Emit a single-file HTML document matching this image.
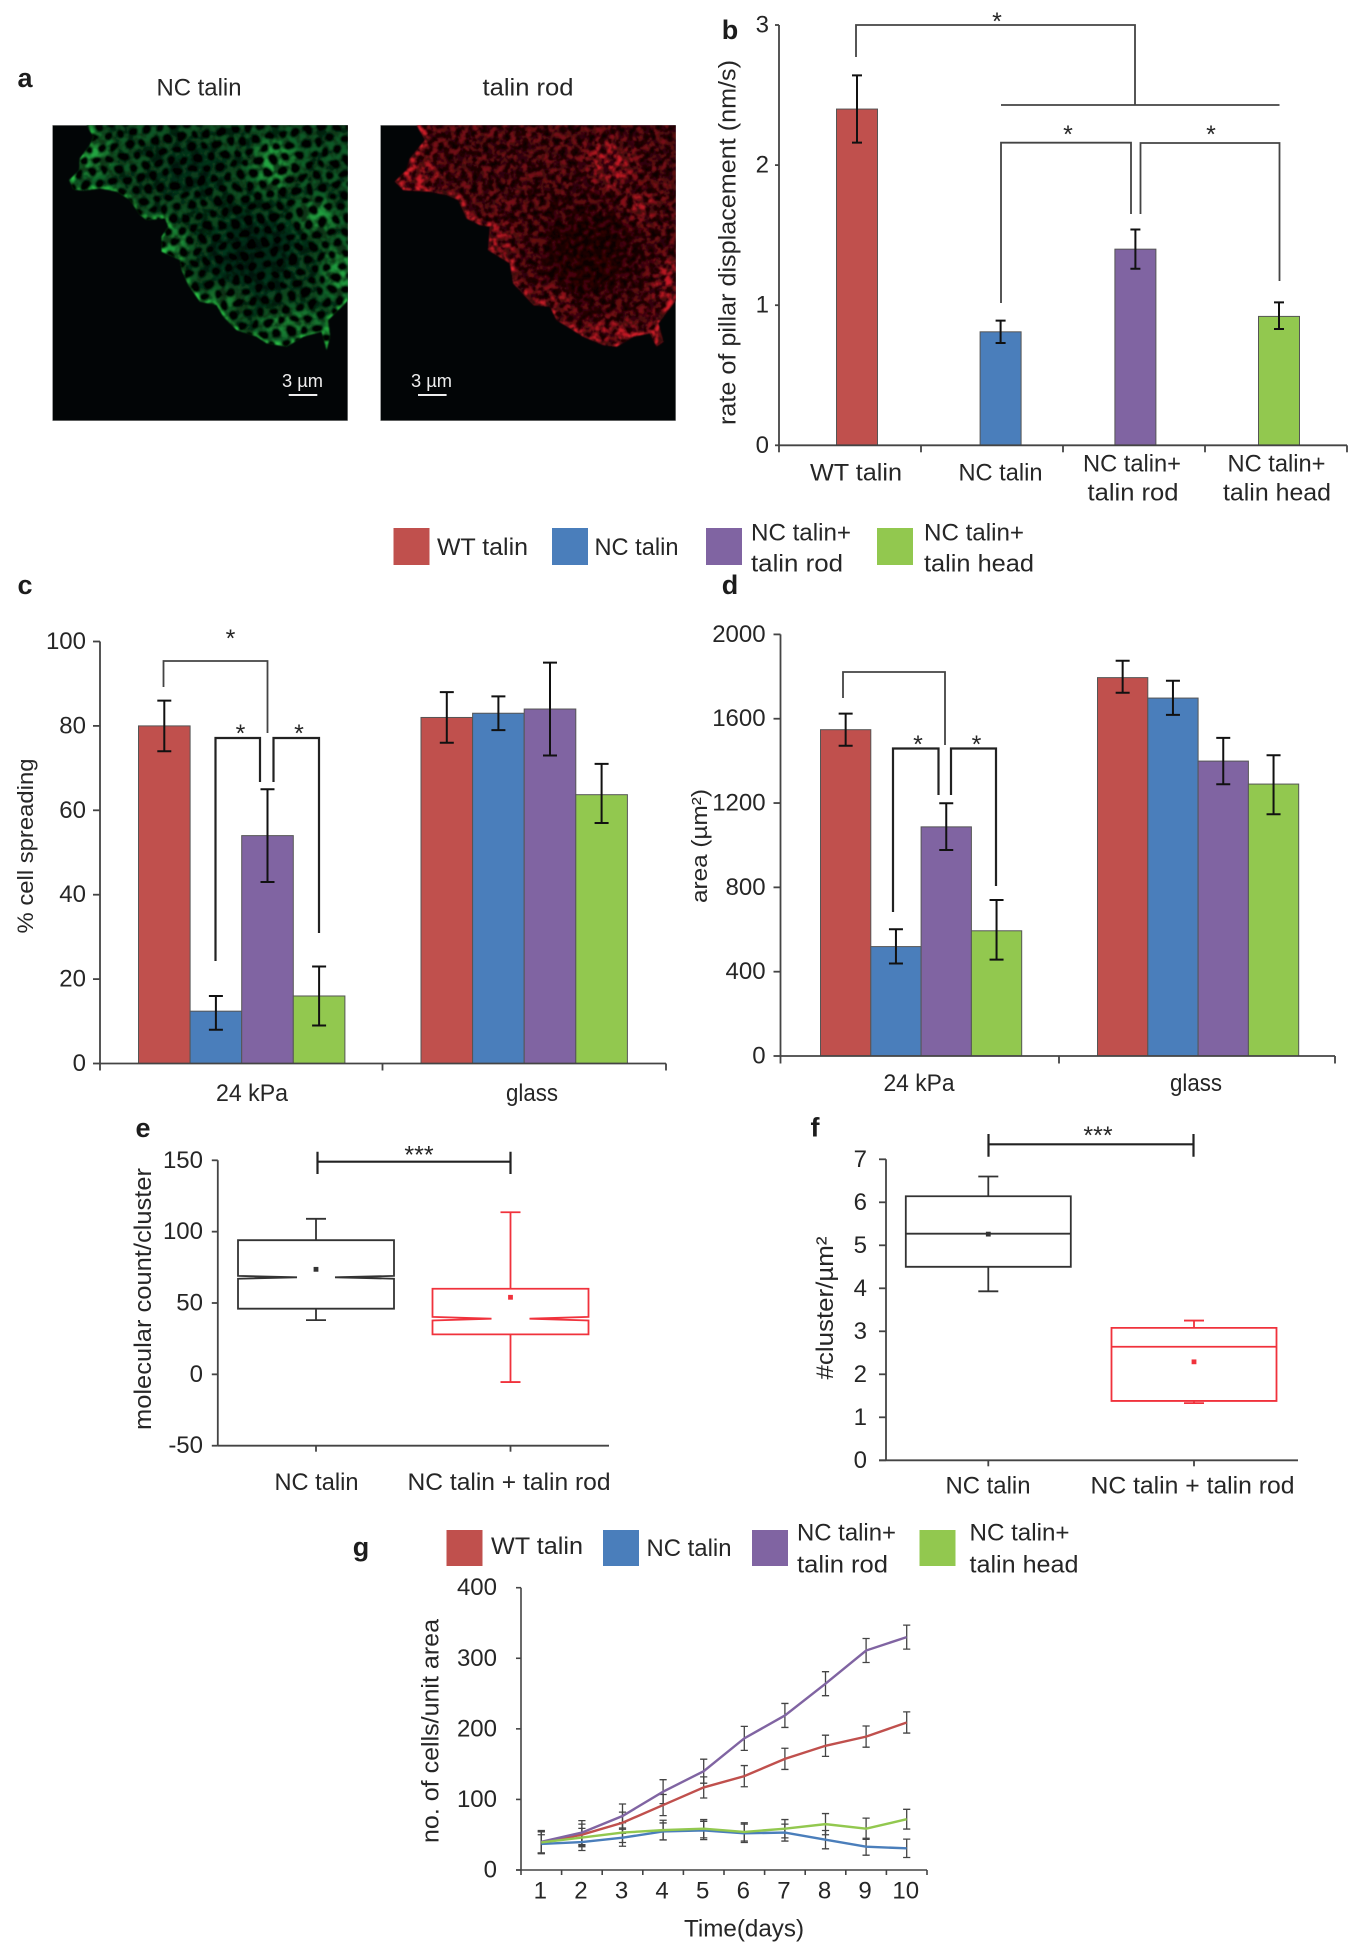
<!DOCTYPE html>
<html lang="en">
<head>
<meta charset="utf-8">
<title>Talin figure panels</title>
<style>
html,body{margin:0;padding:0;background:#fff;width:1358px;height:1950px;overflow:hidden}
svg{display:block}
text{font-family:"Liberation Sans",Arial,sans-serif;font-size:24px;fill:#262626}
.ltr{font-weight:700;font-size:27px;fill:#1c1c1c;text-anchor:middle}
.m{text-anchor:middle}
.star{font-size:25px;text-anchor:middle}
.br{fill:none;stroke:#444;stroke-width:1.8}
.brk{fill:none;stroke:#222;stroke-width:2.2}
</style>
</head>
<body>
<svg id="figure" xmlns="http://www.w3.org/2000/svg" width="1358" height="1950" viewBox="0 0 1358 1950">
<defs>
<pattern id="holes" patternUnits="userSpaceOnUse" width="13.4" height="23" patternTransform="rotate(-8)">
<circle cx="0" cy="0" r="4.4" fill="#010302"/><circle cx="13.4" cy="0" r="4.4" fill="#010302"/>
<circle cx="6.7" cy="11.5" r="4.4" fill="#010302"/><circle cx="0" cy="23" r="4.4" fill="#010302"/><circle cx="13.4" cy="23" r="4.4" fill="#010302"/>
</pattern>
<filter id="warpG" x="-3%" y="-3%" width="106%" height="106%">
<feTurbulence type="fractalNoise" baseFrequency="0.05" numOctaves="2" seed="3" result="n"/>
<feDisplacementMap in="SourceGraphic" in2="n" scale="9" xChannelSelector="R" yChannelSelector="G"/>
<feGaussianBlur stdDeviation="0.9"/>
</filter>
<filter id="warpR" x="-3%" y="-3%" width="106%" height="106%">
<feTurbulence type="fractalNoise" baseFrequency="0.09" numOctaves="2" seed="7" result="n"/>
<feDisplacementMap in="SourceGraphic" in2="n" scale="13" xChannelSelector="R" yChannelSelector="G"/>
<feGaussianBlur stdDeviation="1.1"/>
</filter>
<filter id="b05" x="-5%" y="-5%" width="110%" height="110%"><feGaussianBlur stdDeviation="0.7"/></filter>
<filter id="b5" x="-20%" y="-20%" width="140%" height="140%"><feGaussianBlur stdDeviation="4"/></filter>
<filter id="b9" x="-100%" y="-100%" width="300%" height="300%"><feGaussianBlur stdDeviation="7"/></filter>
<filter id="b20" x="-100%" y="-100%" width="300%" height="300%"><feGaussianBlur stdDeviation="18"/></filter>
<filter id="mottleG" x="0" y="0" width="100%" height="100%" color-interpolation-filters="sRGB">
<feTurbulence type="fractalNoise" baseFrequency="0.11" numOctaves="3" seed="4"/>
<feColorMatrix values="0 0 0 0 0 0 0 0 0 0 0 0 0 0 0 3 0 0 0 -1.1"/>
</filter>
<filter id="mottleR" x="0" y="0" width="100%" height="100%" color-interpolation-filters="sRGB">
<feTurbulence type="fractalNoise" baseFrequency="0.18" numOctaves="3" seed="9"/>
<feColorMatrix values="0 0 0 0 0 0 0 0 0 0 0 0 0 0 0 3.6 0 0 0 -1.3"/>
</filter>
<clipPath id="clipG"><rect x="52.3" y="125" width="295.7" height="296"/></clipPath>
<clipPath id="clipR"><rect x="380.3" y="125" width="295.7" height="296"/></clipPath>
<clipPath id="cellG"><polygon transform="translate(40,120) scale(.3333)" points="140,15 160,50 150,75 120,115 118,150 88,180 100,208 130,212 180,205 230,215 270,240 300,285 320,300 375,295 385,320 365,350 365,395 420,420 425,450 445,495 480,545 530,555 550,590 590,630 650,650 680,670 740,680 790,650 845,635 860,690 870,650 865,600 925,540 925,15"/></clipPath>
<clipPath id="cellR"><polygon transform="translate(370,120) scale(.3333)" points="140,15 165,60 120,115 110,150 75,185 100,210 180,215 230,225 265,240 290,295 330,315 360,320 355,390 420,430 430,490 490,555 540,560 560,600 640,650 700,675 740,680 790,650 840,640 860,680 880,665 865,610 918,540 918,15"/></clipPath>
</defs>
<rect x="0" y="0" width="1358" height="1950" fill="#fff"/>

<!-- panel a -->
<text class="ltr" x="25" y="87">a</text>
<text class="m" x="199" y="95.5" textLength="85" lengthAdjust="spacingAndGlyphs">NC talin</text>
<text class="m" x="528" y="95.5" textLength="91" lengthAdjust="spacingAndGlyphs">talin rod</text>

<g clip-path="url(#clipG)">
<rect x="52.3" y="125" width="295.7" height="296" fill="#020506" stroke="#bbb" stroke-width="1"/>
<g filter="url(#b05)"><g clip-path="url(#cellG)">
<rect x="52" y="125" width="296" height="296" fill="#0d5a27"/>
<g fill="#2cba48" opacity=".8" filter="url(#b9)">
<ellipse cx="275" cy="165" rx="22" ry="24"/><ellipse cx="317" cy="217" rx="18" ry="16"/><ellipse cx="340" cy="270" rx="14" ry="26"/>
<ellipse cx="290" cy="323" rx="30" ry="10"/><ellipse cx="227" cy="298" rx="20" ry="10"/><ellipse cx="173" cy="243" rx="14" ry="16"/><ellipse cx="90" cy="153" rx="20" ry="22"/>
</g>
<ellipse cx="255" cy="255" rx="50" ry="45" fill="#020f07" opacity=".6" filter="url(#b20)"/>
<ellipse cx="190" cy="170" rx="40" ry="30" fill="#020f07" opacity=".45" filter="url(#b20)"/>
<polyline transform="translate(40,120) scale(.3333)" fill="none" stroke="#2ccb4a" stroke-width="20" filter="url(#b5)" points="140,15 160,50 150,75 120,115 118,150 88,180 100,208 130,212 180,205 230,215 270,240 300,285 320,300 375,295 385,320 365,350 365,395 420,420 425,450 445,495 480,545 530,555 550,590 590,630 650,650 680,670 740,680 790,650 845,635 860,690 870,650 865,600 925,540"/>
<rect x="52" y="125" width="296" height="296" filter="url(#mottleG)" opacity=".6"/>
<rect x="40" y="115" width="320" height="316" fill="url(#holes)" filter="url(#warpG)"/>
</g></g>
<text class="m" x="302.5" y="387" style="font-size:18px;fill:#eee" textLength="41" lengthAdjust="spacingAndGlyphs">3 µm</text>
<rect x="288.7" y="394" width="28.6" height="2" fill="#eee"/>
</g>

<g clip-path="url(#clipR)">
<rect x="380.3" y="125" width="295.7" height="296" fill="#020506" stroke="#bbb" stroke-width="1"/>
<g filter="url(#b05)"><g clip-path="url(#cellR)">
<rect x="380" y="125" width="296" height="296" fill="#780e15"/>
<g fill="#dd1f2a" opacity=".9" filter="url(#b9)">
<ellipse cx="610" cy="165" rx="22" ry="24"/><ellipse cx="640" cy="208" rx="18" ry="14"/><ellipse cx="668" cy="285" rx="14" ry="26"/>
<ellipse cx="620" cy="330" rx="34" ry="10"/><ellipse cx="555" cy="298" rx="22" ry="12"/><ellipse cx="498" cy="245" rx="16" ry="18"/><ellipse cx="418" cy="175" rx="22" ry="16"/>
</g>
<ellipse cx="590" cy="255" rx="50" ry="50" fill="#1a0203" opacity=".6" filter="url(#b20)"/>
<polyline transform="translate(370,120) scale(.3333)" fill="none" stroke="#e8242e" stroke-width="26" filter="url(#b5)" points="140,15 165,60 120,115 110,150 75,185 100,210 180,215 230,225 265,240 290,295 330,315 360,320 355,390 420,430 430,490 490,555 540,560 560,600 640,650 700,675 740,680 790,650 840,640 860,680 880,665 865,610 918,540"/>
<rect x="380" y="125" width="296" height="296" filter="url(#mottleR)" opacity=".75"/>
<rect x="370" y="115" width="320" height="316" fill="url(#holes)" filter="url(#warpR)" opacity=".62"/>
</g></g>
<text class="m" x="431.5" y="387" style="font-size:18px;fill:#eee" textLength="41" lengthAdjust="spacingAndGlyphs">3 µm</text>
<rect x="418" y="394" width="28.6" height="2" fill="#eee"/>
</g>

<!-- panel b -->
<text class="ltr" x="730" y="39">b</text>
<text class="m" transform="translate(735.5,242.5) rotate(-90)" x="0" y="0" textLength="365" lengthAdjust="spacingAndGlyphs">rate of pillar displacement (nm/s)</text>
<g id="panel-b"></g>
<text class="m" x="856" y="480.5" textLength="92" lengthAdjust="spacingAndGlyphs">WT talin</text>
<text class="m" x="1000.5" y="480.5" textLength="84" lengthAdjust="spacingAndGlyphs">NC talin</text>
<text class="m" x="1132" y="471.5" textLength="98" lengthAdjust="spacingAndGlyphs">NC talin+</text>
<text class="m" x="1133" y="500.5" textLength="91" lengthAdjust="spacingAndGlyphs">talin rod</text>
<text class="m" x="1276.5" y="471.5" textLength="98" lengthAdjust="spacingAndGlyphs">NC talin+</text>
<text class="m" x="1277" y="500.5" textLength="108" lengthAdjust="spacingAndGlyphs">talin head</text>
<path class="br" d="M856 57V25H1135V105M1001 105H1279.5"/>
<path class="br" d="M1001 303V142.7H1131V214"/>
<path class="br" d="M1140.5 214V143H1279.5V281"/>
<text class="star" x="997" y="30">*</text>
<text class="star" x="1068" y="143">*</text>
<text class="star" x="1211" y="143">*</text>

<!-- legend 1 -->
<g>
<rect x="393.5" y="528" width="36" height="37" fill="#c0504d"/>
<text x="437" y="555" textLength="91" lengthAdjust="spacingAndGlyphs">WT talin</text>
<rect x="552" y="528" width="36" height="37" fill="#4a7ebb"/>
<text x="594.5" y="555" textLength="84" lengthAdjust="spacingAndGlyphs">NC talin</text>
<rect x="706" y="528" width="36" height="37" fill="#8064a2"/>
<text x="751" y="540.5" textLength="100" lengthAdjust="spacingAndGlyphs">NC talin+</text>
<text x="751" y="571.5" textLength="92" lengthAdjust="spacingAndGlyphs">talin rod</text>
<rect x="877" y="528" width="36" height="37" fill="#92c84f"/>
<text x="924" y="540.5" textLength="100" lengthAdjust="spacingAndGlyphs">NC talin+</text>
<text x="924" y="571.5" textLength="110" lengthAdjust="spacingAndGlyphs">talin head</text>
</g>

<!-- panel c -->
<text class="ltr" x="25" y="594">c</text>
<text class="m" transform="translate(33,846) rotate(-90)" x="0" y="0" style="font-size:22px" textLength="175" lengthAdjust="spacingAndGlyphs">% cell spreading</text>
<g id="panel-c"></g>
<text class="m" x="252" y="1101" textLength="72" lengthAdjust="spacingAndGlyphs">24 kPa</text>
<text class="m" x="532" y="1101" textLength="52" lengthAdjust="spacingAndGlyphs">glass</text>
<path class="br" d="M163.5 687V661H267.5V733"/>
<path class="brk" d="M215.5 961V738H260V782"/>
<path class="brk" d="M273.5 782V738H319V933"/>
<text class="star" x="230.5" y="647">*</text>
<text class="star" x="240.5" y="742">*</text>
<text class="star" x="299" y="742">*</text>

<!-- panel d -->
<text class="ltr" x="730" y="594">d</text>
<text class="m" transform="translate(707,846) rotate(-90)" x="0" y="0" style="font-size:22px" textLength="114" lengthAdjust="spacingAndGlyphs">area (µm²)</text>
<g id="panel-d"></g>
<text class="m" x="919" y="1091" textLength="71" lengthAdjust="spacingAndGlyphs">24 kPa</text>
<text class="m" x="1196" y="1091" textLength="52" lengthAdjust="spacingAndGlyphs">glass</text>
<path class="br" d="M843 698V672H945V745"/>
<path class="brk" d="M893 912V748.5H938.5V795"/>
<path class="brk" d="M951 795V748.5H996V886"/>
<text class="star" x="918" y="753">*</text>
<text class="star" x="976.5" y="753">*</text>

<!-- panel e -->
<text class="ltr" x="143" y="1137">e</text>
<text class="m" transform="translate(151,1299) rotate(-90)" x="0" y="0" textLength="262" lengthAdjust="spacingAndGlyphs">molecular count/cluster</text>
<g id="panel-e"></g>
<text class="m" x="316.5" y="1490" textLength="84" lengthAdjust="spacingAndGlyphs">NC talin</text>
<text class="m" x="509" y="1490" textLength="203" lengthAdjust="spacingAndGlyphs">NC talin + talin rod</text>
<path class="brk" d="M317.5 1151.7V1174M317.5 1161.7H510.5M510.5 1151.7V1174"/>
<text class="star" x="419" y="1163.5">***</text>

<!-- panel f -->
<text class="ltr" x="815" y="1136.7">f</text>
<text class="m" transform="translate(833,1308) rotate(-90)" x="0" y="0" textLength="143" lengthAdjust="spacingAndGlyphs">#cluster/µm²</text>
<g id="panel-f"></g>
<text class="m" x="988" y="1493.5" textLength="85" lengthAdjust="spacingAndGlyphs">NC talin</text>
<text class="m" x="1192.5" y="1493.5" textLength="204" lengthAdjust="spacingAndGlyphs">NC talin + talin rod</text>
<path class="brk" d="M988.5 1134V1156.7M988.5 1144.3H1193.5M1193.5 1134V1156.7"/>
<text class="star" x="1098" y="1144">***</text>

<!-- panel g -->
<text class="ltr" x="361" y="1556">g</text>
<g>
<rect x="446.5" y="1530" width="36" height="36" fill="#c0504d"/>
<text x="491" y="1554" textLength="92" lengthAdjust="spacingAndGlyphs">WT talin</text>
<rect x="603" y="1530" width="36" height="36" fill="#4a7ebb"/>
<text x="646.5" y="1556" textLength="85" lengthAdjust="spacingAndGlyphs">NC talin</text>
<rect x="752" y="1530" width="36" height="36" fill="#8064a2"/>
<text x="797" y="1540.5" textLength="99" lengthAdjust="spacingAndGlyphs">NC talin+</text>
<text x="797" y="1572.5" textLength="91" lengthAdjust="spacingAndGlyphs">talin rod</text>
<rect x="919.5" y="1530" width="36" height="36" fill="#92c84f"/>
<text x="969.5" y="1540.5" textLength="100" lengthAdjust="spacingAndGlyphs">NC talin+</text>
<text x="969.5" y="1572.5" textLength="109" lengthAdjust="spacingAndGlyphs">talin head</text>
</g>
<text class="m" transform="translate(438.5,1731) rotate(-90)" x="0" y="0" textLength="224" lengthAdjust="spacingAndGlyphs">no. of cells/unit area</text>
<g id="panel-g"></g>
<text class="m" x="744" y="1936.5" textLength="120" lengthAdjust="spacingAndGlyphs">Time(days)</text>

<script>
// ---------- panel b data ----------
const bCategories = ['WT talin', 'NC talin', 'NC talin+ talin rod', 'NC talin+ talin head'];
const bValues = [2.4, 0.81, 1.4, 0.92];
const bErrHigh = [2.64, 0.89, 1.54, 1.02];
const bErrLow = [2.16, 0.73, 1.26, 0.83];
const bTicks = [0, 1, 2, 3];
// ---------- panel c data ----------
const seriesNames = ['wt', 'nc', 'rod', 'head'];
const seriesColors = ['#c0504d', '#4a7ebb', '#8064a2', '#92c84f'];
const groups = ['24-kpa', 'glass'];
const cValues24 = [80, 12.4, 54, 16];
const cValuesGlass = [82, 83, 84, 63.7];
const cHigh24 = [86, 16, 65, 23];
const cLow24 = [74, 8, 43, 9];
const cHighGlass = [88, 87, 95, 71];
const cLowGlass = [76, 79, 73, 57];
const cTicks = [0, 20, 40, 60, 80, 100];
// ---------- panel d data ----------
const dValues24 = [1548, 519, 1087, 594];
const dValuesGlass = [1795, 1698, 1399, 1290];
const dHigh24 = [1624, 601, 1199, 740];
const dLow24 = [1472, 439, 977, 457];
const dHighGlass = [1875, 1780, 1509, 1427];
const dLowGlass = [1723, 1618, 1289, 1147];
const dTicks = [0, 400, 800, 1200, 1600, 2000];
// ---------- panel e data: whisker low, q1, median, q3, whisker high, mean ----------
const eNcTalin = [38, 46, 68, 94, 109, 73.6];
const eNcTalinRod = [-5.4, 28, 39, 60, 113.6, 54];
const eTicks = [-50, 0, 50, 100, 150];
// ---------- panel f data ----------
const fNcTalin = [3.93, 4.5, 5.27, 6.14, 6.6, 5.26];
const fNcTalinRod = [1.33, 1.38, 2.64, 3.08, 3.25, 2.29];
const fTicks = [0, 1, 2, 3, 4, 5, 6, 7];
// ---------- panel g data ----------
const gDays = [1, 2, 3, 4, 5, 6, 7, 8, 9, 10];
const gWt = [39, 50, 67, 92, 117, 133, 157.5, 176, 189, 209];
const gNc = [37, 39.6, 45.7, 54.7, 56, 52, 53, 43, 33, 30.7];
const gRod = [40, 53, 76.5, 111, 140, 186.5, 219, 264, 311, 330];
const gHead = [39, 46, 53, 56.5, 58.5, 54, 58.5, 65, 58.5, 72];
const gErrWt = [16, 15, 15, 15, 15, 15, 15, 15, 15, 15];
const gErrNc = [13, 12, 12, 12, 13, 13, 12, 13, 12, 13];
const gErrRod = [16, 17, 17, 17, 17, 17, 17, 17, 17, 17];
const gErrHead = [15, 13, 14, 14, 13, 13, 13, 15, 15, 14];
const gTicks = [0, 100, 200, 300, 400];

const SVGNS = 'http://www.w3.org/2000/svg';
function linear(d0, d1, r0, r1) {
  return function (v) { return r0 + (v - d0) * (r1 - r0) / (d1 - d0); };
}
function mk(parent, tag, name, attrs, txt) {
  const el = document.createElementNS(SVGNS, tag);
  
  
  for (const k in attrs) el.setAttribute(k, attrs[k]);
  if (txt !== undefined) el.textContent = txt;
  parent.appendChild(el);
  return el;
}
const AXIS = '#444';
function yAxis(g, pfx, ticks, y, x0, tickLen, labelRight, sw) {
  mk(g, 'line', pfx + '-y-axis', {x1: x0, x2: x0, y1: y(ticks[0]), y2: y(ticks[ticks.length - 1]), stroke: AXIS, 'stroke-width': sw});
  ticks.forEach(function (t) {
    mk(g, 'line', pfx + '-y-tick-' + t, {x1: x0 - tickLen, x2: x0, y1: y(t), y2: y(t), stroke: AXIS, 'stroke-width': sw});
    mk(g, 'text', pfx + '-y-tick-label-' + t, {x: labelRight, y: y(t) + 7.5, 'text-anchor': 'end'}, String(t));
  });
}
function xAxis(g, pfx, y0, x0, x1, tickXs, tickLen, sw) {
  mk(g, 'line', pfx + '-x-axis', {x1: x0, x2: x1, y1: y0, y2: y0, stroke: AXIS, 'stroke-width': sw});
  tickXs.forEach(function (x, i) {
    mk(g, 'line', pfx + '-x-tick-' + i, {x1: x, x2: x, y1: y0, y2: y0 + tickLen, stroke: AXIS, 'stroke-width': sw});
  });
}
function bar(g, name, x, w, top, base, fill) {
  mk(g, 'rect', name, {x: x, y: top, width: w, height: base - top, fill: fill, stroke: '#555', 'stroke-width': 1});
}
function errBar(g, name, x, hi, lo, cap, stroke, sw) {
  mk(g, 'path', name, {d: 'M' + (x - cap) + ' ' + hi + 'H' + (x + cap) + 'M' + x + ' ' + hi + 'V' + lo + 'M' + (x - cap) + ' ' + lo + 'H' + (x + cap), fill: 'none', stroke: stroke, 'stroke-width': sw});
}

// panel b
(function () {
  const g = document.getElementById('panel-b');
  const y = linear(0, 3, 445.3, 25);
  const band = linear(0, 4, 779, 1347);
  const slotShift = [7, 8.6, 1.4, 3];
  const cx = function (i) { return band(i + 0.5) + slotShift[i]; };
  bCategories.forEach(function (c, i) {
    bar(g, 'b-bar-' + seriesNames[i], cx(i) - 20.5, 41, y(bValues[i]), y(0), seriesColors[i]);
    errBar(g, 'b-error-' + seriesNames[i], cx(i), y(bErrHigh[i]), y(bErrLow[i]), 5, '#111', 2);
  });
  yAxis(g, 'b', bTicks, y, 779, 4, 769, 1.8);
  xAxis(g, 'b', y(0), 779, 1347, [0, 1, 2, 3, 4].map(band), 7, 1.8);
})();

function groupedBars(id, pfx, y, values, highs, lows, x0, w, gap) {
  const g = document.getElementById(id);
  groups.forEach(function (grp, k) {
    values[k].forEach(function (v, i) {
      const x = x0 + k * gap + i * w;
      bar(g, pfx + '-bar-' + grp + '-' + seriesNames[i], x, w, y(v), y(0), seriesColors[i]);
    });
    values[k].forEach(function (v, i) {
      const x = x0 + k * gap + i * w;
      errBar(g, pfx + '-error-' + grp + '-' + seriesNames[i], x + w / 2, y(highs[k][i]), y(lows[k][i]), 7, '#111', 2);
    });
  });
  return g;
}
// panel c
(function () {
  const y = linear(0, 100, 1063.5, 641.5);
  const g = groupedBars('panel-c', 'c', y, [cValues24, cValuesGlass], [cHigh24, cHighGlass], [cLow24, cLowGlass], 138.5, 51.6, 282.5);
  yAxis(g, 'c', cTicks, y, 100, 7, 86, 1.8);
  xAxis(g, 'c', y(0), 100, 666, [100, 382.5, 666], 7, 1.8);
})();
// panel d
(function () {
  const y = linear(0, 2000, 1056, 634.4);
  const g = groupedBars('panel-d', 'd', y, [dValues24, dValuesGlass], [dHigh24, dHighGlass], [dLow24, dLowGlass], 820.5, 50.3, 277);
  yAxis(g, 'd', dTicks, y, 780.5, 7, 765.6, 1.8);
  xAxis(g, 'd', y(0), 780.5, 1335, [780.5, 1059, 1335], 7.5, 1.8);
})();

function box(g, name, cx, halfW, s, y, color, notchHalf, notchD, sw) {
  const L = cx - halfW, R = cx + halfW;
  const lo = y(s[0]), q1 = y(s[1]), med = y(s[2]), q3 = y(s[3]), hi = y(s[4]), mean = y(s[5]);
  mk(g, 'path', name + '-whiskers', {d: 'M' + cx + ' ' + q3 + 'V' + hi + 'M' + (cx - 10) + ' ' + hi + 'H' + (cx + 10) + 'M' + cx + ' ' + q1 + 'V' + lo + 'M' + (cx - 10) + ' ' + lo + 'H' + (cx + 10), fill: 'none', stroke: color, 'stroke-width': sw});
  let d;
  if (notchHalf > 0) {
    d = 'M' + L + ' ' + q3 + 'H' + R + 'V' + (med - notchD) + 'L' + (cx + notchHalf) + ' ' + med + 'L' + R + ' ' + (med + notchD) + 'V' + q1 + 'H' + L + 'V' + (med + notchD) + 'L' + (cx - notchHalf) + ' ' + med + 'L' + L + ' ' + (med - notchD) + 'Z';
  } else {
    d = 'M' + L + ' ' + q3 + 'H' + R + 'V' + q1 + 'H' + L + 'Z';
    mk(g, 'line', name + '-median', {x1: L, x2: R, y1: med, y2: med, stroke: color, 'stroke-width': sw});
  }
  mk(g, 'path', name + '-box', {d: d, fill: 'none', stroke: color, 'stroke-width': sw});
  mk(g, 'rect', name + '-mean', {x: cx - 2.4, y: mean - 2.4, width: 4.8, height: 4.8, fill: color});
}
// panel e
(function () {
  const g = document.getElementById('panel-e');
  const y = linear(-50, 150, 1445.7, 1160.3);
  box(g, 'e-nc-talin', 316, 78, eNcTalin, y, '#333', 19, 1.4, 1.8);
  box(g, 'e-nc-talin-rod', 510.5, 78, eNcTalinRod, y, '#f0323c', 19, 1.8, 1.8);
  yAxis(g, 'e', eTicks, y, 217.8, 6, 203, 1.8);
  xAxis(g, 'e', y(-50), 217.8, 609, [316, 510.5], 6, 1.8);
})();
// panel f
(function () {
  const g = document.getElementById('panel-f');
  const y = linear(0, 7, 1460.3, 1159.3);
  box(g, 'f-nc-talin', 988.3, 82.5, fNcTalin, y, '#333', 0, 0, 1.8);
  box(g, 'f-nc-talin-rod', 1194, 82.5, fNcTalinRod, y, '#f0323c', 0, 0, 1.8);
  yAxis(g, 'f', fTicks, y, 886, 7, 867, 1.8);
  xAxis(g, 'f', y(0), 879, 1298, [988.3, 1194], 6, 1.8);
})();
// panel g
(function () {
  const g = document.getElementById('panel-g');
  const y = linear(0, 400, 1870, 1587.7);
  const x = linear(0.5, 10.5, 521, 927);
  const series = [
    ['wt', gWt, gErrWt, '#c0504d'],
    ['nc', gNc, gErrNc, '#4a7ebb'],
    ['rod', gRod, gErrRod, '#8064a2'],
    ['head', gHead, gErrHead, '#92c84f']
  ];
  series.forEach(function (s) {
    s[1].forEach(function (v, i) {
      errBar(g, 'g-error-' + s[0] + '-' + gDays[i], x(gDays[i]), y(v + s[2][i]), y(v - s[2][i]), 3.6, '#444', 1.3);
    });
  });
  series.forEach(function (s) {
    const pts = s[1].map(function (v, i) { return x(gDays[i]) + ',' + y(v); }).join(' ');
    mk(g, 'polyline', 'g-line-' + s[0], {points: pts, fill: 'none', stroke: s[3], 'stroke-width': 2.4});
  });
  yAxis(g, 'g', gTicks, y, 521, 5, 497, 1.6);
  const edges = [0.5].concat(gDays.map(function (d) { return d + 0.5; })).map(x);
  xAxis(g, 'g', y(0), 516, 927, edges, 5, 1.6);
  gDays.forEach(function (d) {
    mk(g, 'text', 'g-x-tick-label-' + d, {x: x(d) - 1, y: 1898.5, 'text-anchor': 'middle'}, String(d));
  });
})();
</script>
</svg>
</body>
</html>
